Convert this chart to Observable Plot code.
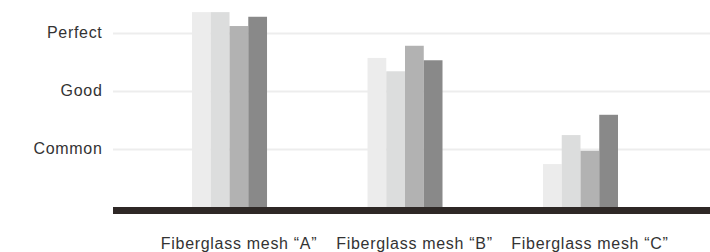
<!DOCTYPE html>
<html>
<head>
<meta charset="utf-8">
<script src="https://cdn.jsdelivr.net/npm/d3@7"></script>
<script src="https://cdn.jsdelivr.net/npm/@observablehq/plot@0.6"></script>
<style>
  html, body { margin: 0; padding: 0; background: #fff; }
  #chart { width: 710px; height: 252px; }
  #chart svg text { letter-spacing: 0.7px; }
</style>
</head>
<body>
<div id="chart"></div>
<script>
// Categories (groups)
const groups = ["Fiberglass mesh \u201CA\u201D", "Fiberglass mesh \u201CB\u201D", "Fiberglass mesh \u201CC\u201D"];
// Series within each group
const series = ["s1", "s2", "s3", "s4"];
// Values per series (A, B, C)
const s1 = [3.36, 2.57, 0.74];
const s2 = [3.36, 2.34, 1.24];
const s3 = [3.12, 2.78, 0.97];
const s4 = [3.28, 2.53, 1.59];
// Y tick labels
const levelValues = [1, 2, 3];
const levelLabels = ["Common", "Good", "Perfect"];

// Layout constants (group width in category units)
const groupWidth = 0.4274;
const barWidth = groupWidth / series.length;

const seriesValues = [s1, s2, s3, s4];
const data = [];
groups.forEach((g, gi) => {
  series.forEach((s, si) => {
    const x1 = gi - groupWidth / 2 + si * barWidth;
    data.push({group: g, gi, series: s, x1, x2: x1 + barWidth, value: seriesValues[si][gi]});
  });
});

const colors = ["#ececec", "#dcdddd", "#b2b2b2", "#898989"];
const font = "'Liberation Sans', Arial, Helvetica, sans-serif";

const chart = Plot.plot({
  width: 710,
  height: 252,
  marginLeft: 113,
  marginRight: 0,
  marginTop: 4,
  marginBottom: 45,
  style: {fontFamily: font, fontSize: "16px", color: "#333", background: "#fff"},
  x: {domain: [-0.664, 2.738], axis: null},
  y: {domain: [0, 3.5], axis: null},
  color: {domain: series, range: colors},
  marks: [
    Plot.ruleY(levelValues, {stroke: "#ededed", strokeWidth: 2}),
    Plot.rectY(data, {x1: "x1", x2: "x2", y1: 0, y2: "value", fill: "series"}),
    Plot.ruleY([0], {stroke: "#2e2826", strokeWidth: 7, dy: 3}),
    Plot.axisY({
      ticks: levelValues,
      tickFormat: d => levelLabels[levelValues.indexOf(d)],
      tickSize: 0,
      tickPadding: 11,
      label: null,
      fill: "#333",
      fontSize: 16,
      dy: -0.5
    }),
    Plot.axisX({
      ticks: groups.map((g, i) => i),
      tickFormat: i => groups[i],
      tickSize: 0,
      tickPadding: 30,
      label: null,
      fill: "#333",
      fontSize: 16,
      dx: 9
    })
  ]
});
document.getElementById("chart").appendChild(chart);
</script>
</body>
</html>
